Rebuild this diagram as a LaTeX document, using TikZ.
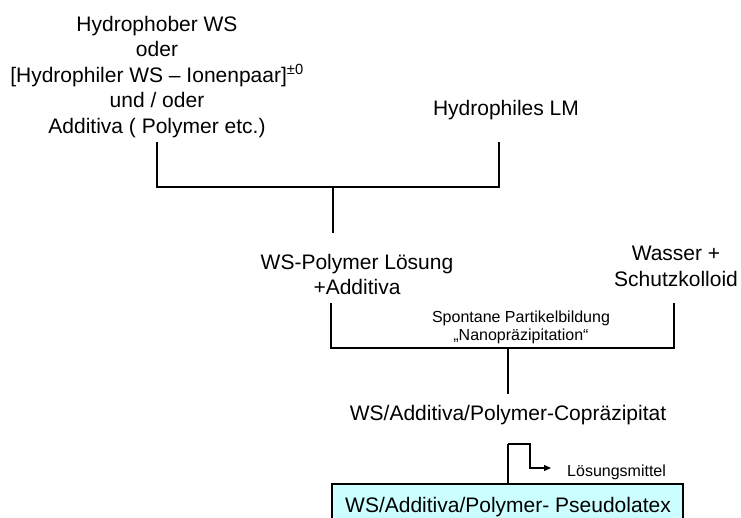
\documentclass[tikz,border=0pt]{standalone}
\usepackage{fontspec}
\setmainfont{Liberation Sans}
\usetikzlibrary{arrows.meta}
\definecolor{boxcyan}{HTML}{CCFFFF}
\tikzset{
  big/.style={font=\fontsize{21}{25.5}\selectfont, inner sep=0pt, align=center},
  small/.style={font=\fontsize{16}{18}\selectfont, inner sep=0pt, align=center},
  conn/.style={line width=1.2pt},
  resultbox/.style={draw, line width=1.2pt, fill=boxcyan}
}
\begin{document}
\begin{tikzpicture}[x=1pt,y=-1pt]
\clip (0,0) rectangle (741,517);
\useasboundingbox (0,0) rectangle (741,517);
\fill[white] (0,0) rectangle (741,517);

% text nodes
\node[big] (top) at (157,77) {Hydrophober WS\\oder\\{}[Hydrophiler WS -- Ionenpaar]\textsuperscript{±0}\\und / oder\\Additiva ( Polymer etc.)};
\node[big, anchor=base] (hlm) at (506,115.5) {Hydrophiles LM};
\node[big, font=\fontsize{21}{25}\selectfont] (wsp) at (357,274.4) {WS-Polymer Lösung\\+Additiva};
\node[big, font=\fontsize{21}{26}\selectfont] (wasser) at (676,266) {Wasser +\\Schutzkolloid};
\node[small] (spont) at (521,327.8) {Spontane Partikelbildung\\„Nanopräzipitation“};
\node[big, anchor=base] (copr) at (508,420.5) {WS/Additiva/Polymer-Copräzipitat};
\node[small, anchor=base west] (loes) at (567,476) {Lösungsmittel};

% result box
\coordinate (bx1) at (332,484);
\coordinate (bx2) at (683,545);
\draw[resultbox] (bx1) rectangle (bx2);
\node[big, anchor=base] (pseudo) at (508,512.5) {WS/Additiva/Polymer- Pseudolatex};

% first junction
\coordinate (a1) at (157,142);
\coordinate (a2) at (157,187);
\coordinate (b1) at (499,142);
\coordinate (b2) at (499,187);
\coordinate (m1) at (333,187);
\coordinate (m2) at (333,233);
\draw[conn] (a1) -- (a2) -- (b2) -- (b1);
\draw[conn] (m1) -- (m2);

% second junction
\coordinate (c1) at (331,303);
\coordinate (c2) at (331,348);
\coordinate (d1) at (674,303);
\coordinate (d2) at (674,348);
\coordinate (n1) at (508,348);
\coordinate (n2) at (508,394);
\draw[conn] (c1) -- (c2) -- (d2) -- (d1);
\draw[conn] (n1) -- (n2);

% third step
\coordinate (p1) at (508,444);
\coordinate (p2) at (508,484);
\coordinate (q1) at (530,444);
\coordinate (q2) at (530,468);
\coordinate (q3) at (551,468);
\draw[conn] (p1) -- (p2);
\draw[conn, -{Triangle[length=7pt,width=6pt]}] (p1) -- (q1) -- (q2) -- (q3);
\end{tikzpicture}
\end{document}
